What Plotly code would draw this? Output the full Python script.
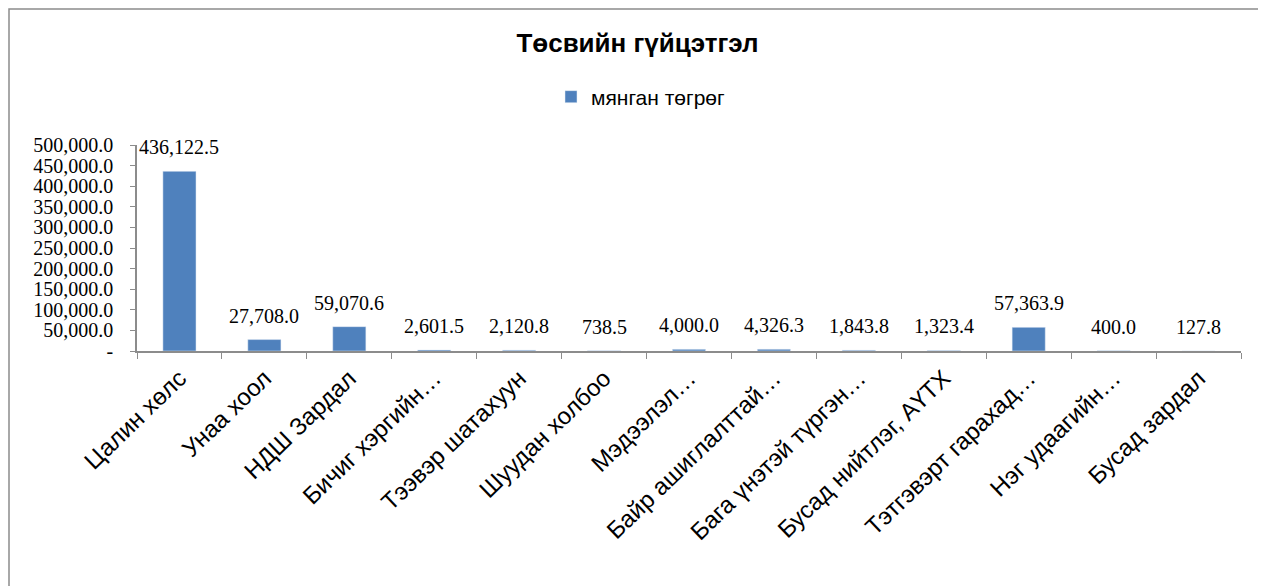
import plotly.graph_objects as go

categories = ["Цалин хөлс", "Унаа хоол", "НДШ Зардал", "Бичиг хэргийн…", "Тээвэр шатахуун",
              "Шуудан холбоо", "Мэдээлэл…", "Байр ашиглалттай…", "Бага үнэтэй түргэн…",
              "Бусад нийтлэг, АҮТХ", "Тэтгэвэрт гарахад…", "Нэг удаагийн…", "Бусад зардал"]
values = [436122.5, 27708.0, 59070.6, 2601.5, 2120.8, 738.5, 4000.0, 4326.3, 1843.8,
          1323.4, 57363.9, 400.0, 127.8]
ytick_vals = [0, 50000, 100000, 150000, 200000, 250000, 300000, 350000, 400000, 450000, 500000]
ytick_text = ["-"] + [f"{v:,.1f}" for v in ytick_vals[1:]]
series_name = "мянган төгрөг"
title = "Төсвийн гүйцэтгэл"

W, H = 1266, 586
L, T, PW, PH = 129, 137, 1104, 206

fig = go.Figure()
fig.add_trace(go.Bar(
    x=categories, y=values, name=series_name,
    marker=dict(color="#4F81BD"),
    width=0.39,
    showlegend=True,
))

label_annotations = [
    dict(x=c, y=v, xref="x", yref="y", text=f"{v:,.1f}", showarrow=False,
         yanchor="bottom", xanchor="center", yshift=11,
         font=dict(family="Liberation Serif", size=20, color="#000"))
    for c, v in zip(categories, values)
]

fig.update_layout(
    width=W, height=H,
    margin=dict(l=L, r=W - L - PW, t=T, b=H - T - PH, autoexpand=False),
    paper_bgcolor="white", plot_bgcolor="white",
    title=dict(text=f"<b>{title}</b>", x=629.5 / W, xref="container", xanchor="center",
               y=1 - 35 / H, yref="container", yanchor="middle",
               font=dict(family="Liberation Sans", size=26, color="#000")),
    legend=dict(orientation="h", x=0.5, xref="container", xanchor="center", y=1 - 89 / H,
                yref="container", yanchor="middle",
                font=dict(family="Liberation Sans", size=21, color="#000"),
                itemwidth=30, bgcolor="rgba(0,0,0,0)"),
    bargap=0.61,
    xaxis=dict(showline=True, linecolor="#8c8c8c", linewidth=1.5, ticks="outside",
               tickson="boundaries", ticklen=6, tickcolor="#8c8c8c", tickangle=-44,
               automargin=False, ticklabelstandoff=2,
               tickfont=dict(family="Liberation Sans", size=24, color="#000"),
               showgrid=False),
    yaxis=dict(range=[0, 500000], showline=True, linecolor="#8c8c8c", linewidth=1.5,
               ticks="outside", ticklen=5, tickcolor="#8c8c8c", automargin=False,
               tickvals=ytick_vals, ticktext=ytick_text, showgrid=False, zeroline=False,
               ticklabelstandoff=13,
               tickfont=dict(family="Liberation Serif", size=20, color="#000")),
    annotations=label_annotations,
    shapes=[dict(type="rect", xref="paper", yref="paper",
                 x0=(1 - L) / PW, x1=(1254 - L) / PW,
                 y0=(T + PH - 620) / PH, y1=(T + PH - 1) / PH,
                 line=dict(color="#8c8c8c", width=1.5), layer="below")],
)

fig.write_html("out.html")
